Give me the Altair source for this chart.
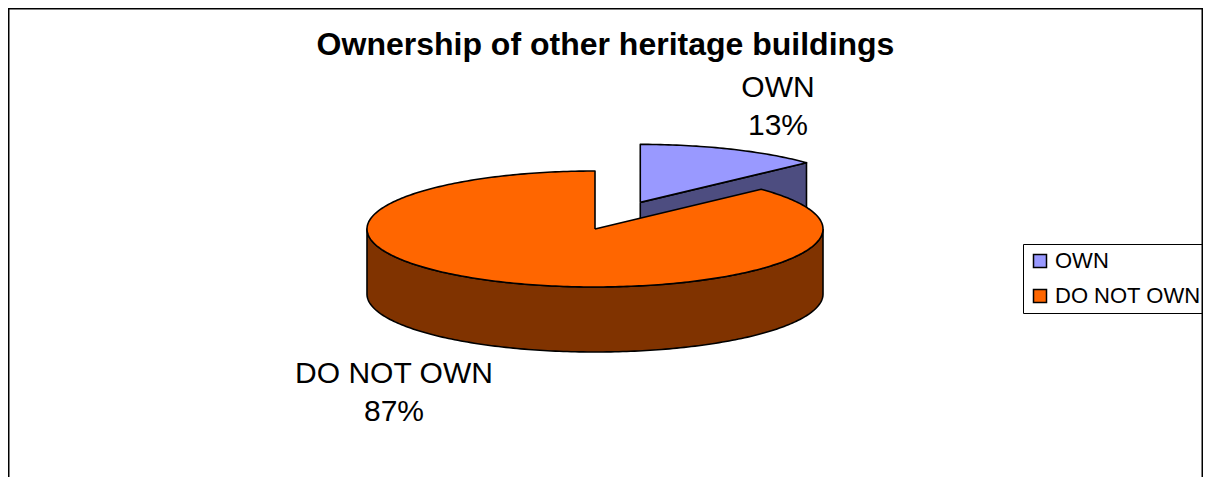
import math
import altair as alt
import pandas as pd

# ---- data ----
CATEGORIES = ["OWN", "DO NOT OWN"]
VALUES = [13, 87]
TOP_COLORS = ["#9999FF", "#FF6600"]
SIDE_COLORS = ["#4D4D80", "#803300"]
TITLE = "Ownership of other heritage buildings"

# ---- layout / style ----
W, H = 1195, 469
CX, CY = 587, 221          # centre of the pie's top face
RX, RY = 228, 58           # ellipse radii of the tilted top face
DEPTH = 65                 # thickness of the pie
EXPLODE = [0.5, 0.0]       # fraction of radius each slice is pulled out
LABEL_POS = {"OWN": (770, 89), "DO NOT OWN": (386, 375)}
LINE_GAP = 38
FONT = "Liberation Sans"
STROKE_W = 1.6


def pt(cx, cy, deg, dz=0.0):
    r = math.radians(deg)
    return cx + RX * math.sin(r), cy - RY * math.cos(r) + dz


def arc(cx, cy, a0, a1, dz=0.0, step=1.0):
    n = max(2, int(abs(a1 - a0) / step) + 1)
    return [pt(cx, cy, a0 + (a1 - a0) * k / (n - 1), dz) for k in range(n)]


total = sum(VALUES)
polys = []  # (id, fill, points)
acc = 0.0
for cat, v, top, side, ex in zip(CATEGORIES, VALUES, TOP_COLORS, SIDE_COLORS, EXPLODE):
    a0 = acc / total * 360.0
    a1 = (acc + v) / total * 360.0
    acc += v
    mid = (a0 + a1) / 2.0
    ox = CX + ex * RX * math.sin(math.radians(mid))
    oy = CY - ex * RY * math.cos(math.radians(mid))
    # radial cut faces that face the viewer
    for ang, vis in ((a0, math.sin(math.radians(a0)) < -1e-9), (a1, math.sin(math.radians(a1)) > 1e-9)):
        if vis:
            p = pt(ox, oy, ang)
            pts = [(ox, oy), p, (p[0], p[1] + DEPTH), (ox, oy + DEPTH), (ox, oy)]
            polys.append((f"{cat}-radial-{ang:.1f}", side, pts))
    # outer wall on the front half
    lo, hi = max(a0, 90.0), min(a1, 270.0)
    if lo < hi:
        pts = arc(ox, oy, lo, hi) + arc(ox, oy, hi, lo, DEPTH)
        pts.append(pts[0])
        polys.append((f"{cat}-wall", side, pts))
    # top face
    pts = [(ox, oy)] + arc(ox, oy, a0, a1) + [(ox, oy)]
    polys.append((f"{cat}-top", top, pts))

rows = []
for pid, fill, pts in polys:
    for i, (x, y) in enumerate(pts):
        rows.append({"poly": pid, "i": i, "x": x, "y": y})
poly_df = pd.DataFrame(rows)

xs = alt.Scale(domain=[0, W], nice=False, zero=False)
ys = alt.Scale(domain=[0, H], reverse=True, nice=False, zero=False)

layers = []

# legend source (hidden below the big slice)
leg_df = pd.DataFrame({"cat": CATEGORIES})
layers.append(
    alt.Chart(leg_df)
    .mark_point(shape="square", filled=True, stroke="black", strokeWidth=1.5, size=169, opacity=1)
    .encode(
        x=alt.value(CX),
        y=alt.value(CY + 30),
        fill=alt.Fill(
            "cat:N",
            scale=alt.Scale(domain=CATEGORIES, range=TOP_COLORS),
            sort=CATEGORIES,
            legend=alt.Legend(
                title=None,
                orient="none",
                legendX=1015,
                legendY=236,
                symbolType="square",
                symbolSize=169,
                symbolStrokeColor="black",
                symbolStrokeWidth=1.5,
                symbolOpacity=1,
                labelFont=FONT,
                labelFontSize=22,
                labelColor="black",
                labelOffset=4,
                rowPadding=13,
                padding=6,
                strokeColor="black",
            ),
        ),
    )
)

for pid, fill, pts in polys:
    layers.append(
        alt.Chart(poly_df)
        .transform_filter(alt.datum.poly == pid)
        .mark_line(fill=fill, stroke="black", strokeWidth=STROKE_W, strokeJoin="round")
        .encode(
            x=alt.X("x:Q", scale=xs, axis=None),
            y=alt.Y("y:Q", scale=ys, axis=None),
            order="i:Q",
        )
    )

# data labels
lab_rows = []
for cat, v in zip(CATEGORIES, VALUES):
    lx, ly = LABEL_POS[cat]
    lab_rows.append({"t": cat, "x": lx, "y": ly})
    lab_rows.append({"t": f"{v}%", "x": lx, "y": ly + LINE_GAP})
lab_df = pd.DataFrame(lab_rows)
layers.append(
    alt.Chart(lab_df)
    .mark_text(font=FONT, fontSize=30, color="black", align="center", baseline="alphabetic")
    .encode(x=alt.X("x:Q", scale=xs, axis=None), y=alt.Y("y:Q", scale=ys, axis=None), text="t:N")
)

# title
layers.append(
    alt.Chart(pd.DataFrame({"t": [TITLE]}))
    .mark_text(font=FONT, fontSize=32, fontWeight="bold", color="black", align="center", baseline="alphabetic")
    .encode(x=alt.value(W / 2), y=alt.value(47), text="t:N")
)

# outer frame (top, left, right)
one = pd.DataFrame({"a": [0]})
layers.append(alt.Chart(one).mark_rule(color="black", strokeWidth=1.5).encode(x=alt.value(0), x2=alt.value(W), y=alt.value(0.75)))
layers.append(alt.Chart(one).mark_rule(color="black", strokeWidth=1.5).encode(x=alt.value(0.75), y=alt.value(0), y2=alt.value(H)))
layers.append(alt.Chart(one).mark_rule(color="black", strokeWidth=1.5).encode(x=alt.value(W - 0.75), y=alt.value(0), y2=alt.value(H)))

chart = (
    alt.layer(*layers)
    .properties(width=W, height=H, padding=0, autosize=alt.AutoSizeParams(type="none"), background="white")
    .configure_view(stroke=None)
)

chart.save("out.html", embed_options={"renderer": "svg", "actions": False})
